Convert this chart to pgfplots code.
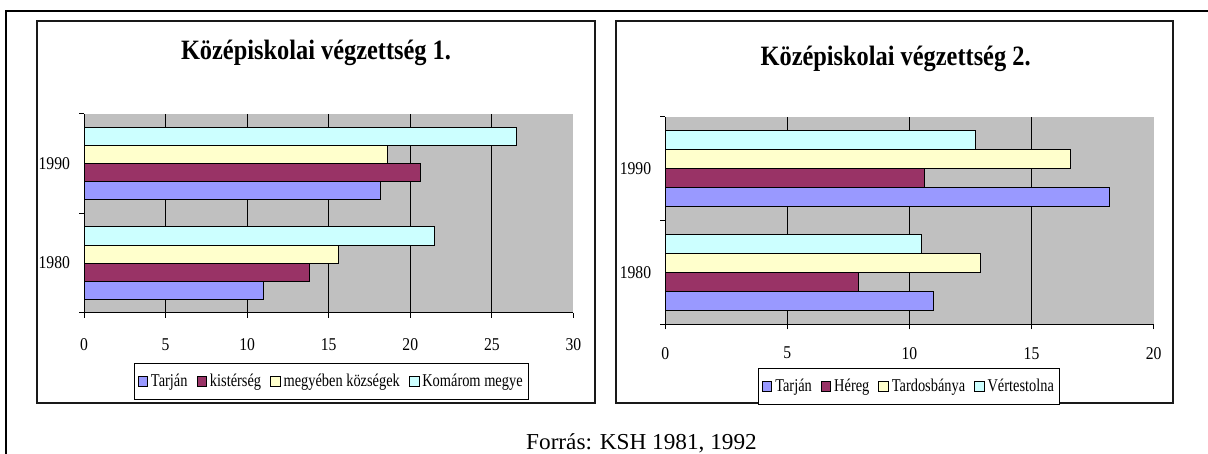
\documentclass[border=0pt]{standalone}
\usepackage{fontspec}
\setmainfont{Liberation Serif}
\newfontfamily\cf{Liberation Serif}[FakeStretch=0.87]
\newfontfamily\lf{Liberation Serif}[FakeStretch=0.8]
\newfontfamily\capf{Liberation Serif}[FakeStretch=1.02]
\usepackage{pgfplots}
\pgfplotsset{compat=1.18}
\definecolor{cA}{HTML}{9999FF}
\definecolor{cB}{HTML}{993366}
\definecolor{cC}{HTML}{FFFFCC}
\definecolor{cD}{HTML}{CCFFFF}
\definecolor{bgc}{HTML}{C0C0C0}
\pgfplotsset{
  mybar/.style={xbar, bar width=0.1818, draw=black, line width=0.45pt, bar shift=#1,
    legend image code/.code={\draw[##1,draw=black,line width=0.4pt] (0pt,-2.4pt) rectangle (4.8pt,2.4pt);}},
  ch/.style={
    scale only axis,
    ymin=0.5, ymax=2.5,
    axis x line*=bottom, axis y line*=left,
    x axis line style={-, line width=0.5pt}, y axis line style={-, line width=0.5pt},
    axis background/.style={fill=bgc},
    tick align=outside,
    major tick length=2.5pt, minor tick length=2.5pt,
    tick style={black, line width=0.5pt},
    ytick={0.5,1.5,2.5}, yticklabels={},
    extra y ticks={1,2}, extra y tick labels={1980,1990},
    extra y tick style={major tick length=0pt},
    major grid style={black, line width=0.5pt},
    /pgf/number format/assume math mode=true,
    tick label style={font=\fontsize{9}{10}\cf},
    yticklabel style={xshift=-3.5pt},
    legend columns=4,
    legend style={draw=black, line width=0.5pt, anchor=center, inner xsep=1.5pt, inner ysep=3.5pt,
      font=\fontsize{9}{10}\lf,
      /tikz/every even column/.append style={column sep=3pt},
      nodes={inner sep=1.5pt}},
  }
}
\begin{document}
\begin{tikzpicture}
\path[use as bounding box] (0pt,0pt) rectangle (604pt,-227pt);
\draw[line width=1.1pt] (3pt,-240pt) -- (3pt,-5.5pt) -- (640pt,-5.5pt);
\draw[line width=0.85pt, draw=black!90] (18.5pt,-10.5pt) rectangle (297.5pt,-201.5pt);
\draw[line width=0.85pt, draw=black!90] (308pt,-10.5pt) rectangle (586.5pt,-201.5pt);
\node[font=\fontsize{14}{16}\cf\bfseries, anchor=base, inner sep=0pt] at (158pt,-29.75pt) {Középiskolai végzettség 1.};
\node[font=\fontsize{14}{16}\cf\bfseries, anchor=base, inner sep=0pt] at (447.8pt,-32.75pt) {Középiskolai végzettség 2.};
\node[font=\fontsize{11.4}{13}\capf, anchor=base, inner sep=0pt] at (320.75pt,-224.65pt) {Forrás: KSH 1981, 1992};

\begin{axis}[ch, at={(42pt,-156.35pt)}, anchor=south west, width=244.7pt, height=99.35pt,
  xmin=0, xmax=30, xtick={0,5,...,30},
  xticklabel style={yshift=-7pt},
  extra x ticks={5,10,...,25}, extra x tick labels={}, extra x tick style={grid=major, major tick length=0pt},
  legend style={at={(0.506,-0.345)}}]
\addplot[mybar=-0.2727, fill=cA] coordinates {(11.0,1) (18.2,2)};
\addplot[mybar=-0.0909, fill=cB] coordinates {(13.8,1) (20.6,2)};
\addplot[mybar=0.0909, fill=cC] coordinates {(15.6,1) (18.6,2)};
\addplot[mybar=0.2727, fill=cD] coordinates {(21.5,1) (26.5,2)};
\legend{Tarján, kistérség, megyében községek, Komárom megye}
\node[font=\fontsize{9}{10}\cf, anchor=center] at ([xshift=6.3pt,yshift=1pt]rel axis cs:1,0) {\%};
\end{axis}

\begin{axis}[ch, at={(332.6pt,-162.15pt)}, anchor=south west, width=244.2pt, height=103.8pt,
  xmin=0, xmax=20, xtick={0,5,...,20},
  xticklabel style={yshift=-5.4pt},
  extra x ticks={5,10,15}, extra x tick labels={}, extra x tick style={grid=major, major tick length=0pt},
  legend style={at={(0.5,-0.3)}}]
\addplot[mybar=-0.2727, fill=cA] coordinates {(11.0,1) (18.2,2)};
\addplot[mybar=-0.0909, fill=cB] coordinates {(7.9,1) (10.6,2)};
\addplot[mybar=0.0909, fill=cC] coordinates {(12.9,1) (16.6,2)};
\addplot[mybar=0.2727, fill=cD] coordinates {(10.5,1) (12.7,2)};
\legend{Tarján, Héreg, Tardosbánya, Vértestolna}
\node[font=\fontsize{9}{10}\cf, anchor=center] at ([xshift=5.5pt,yshift=4pt]rel axis cs:1,0) {\%};
\end{axis}
\end{tikzpicture}
\end{document}
